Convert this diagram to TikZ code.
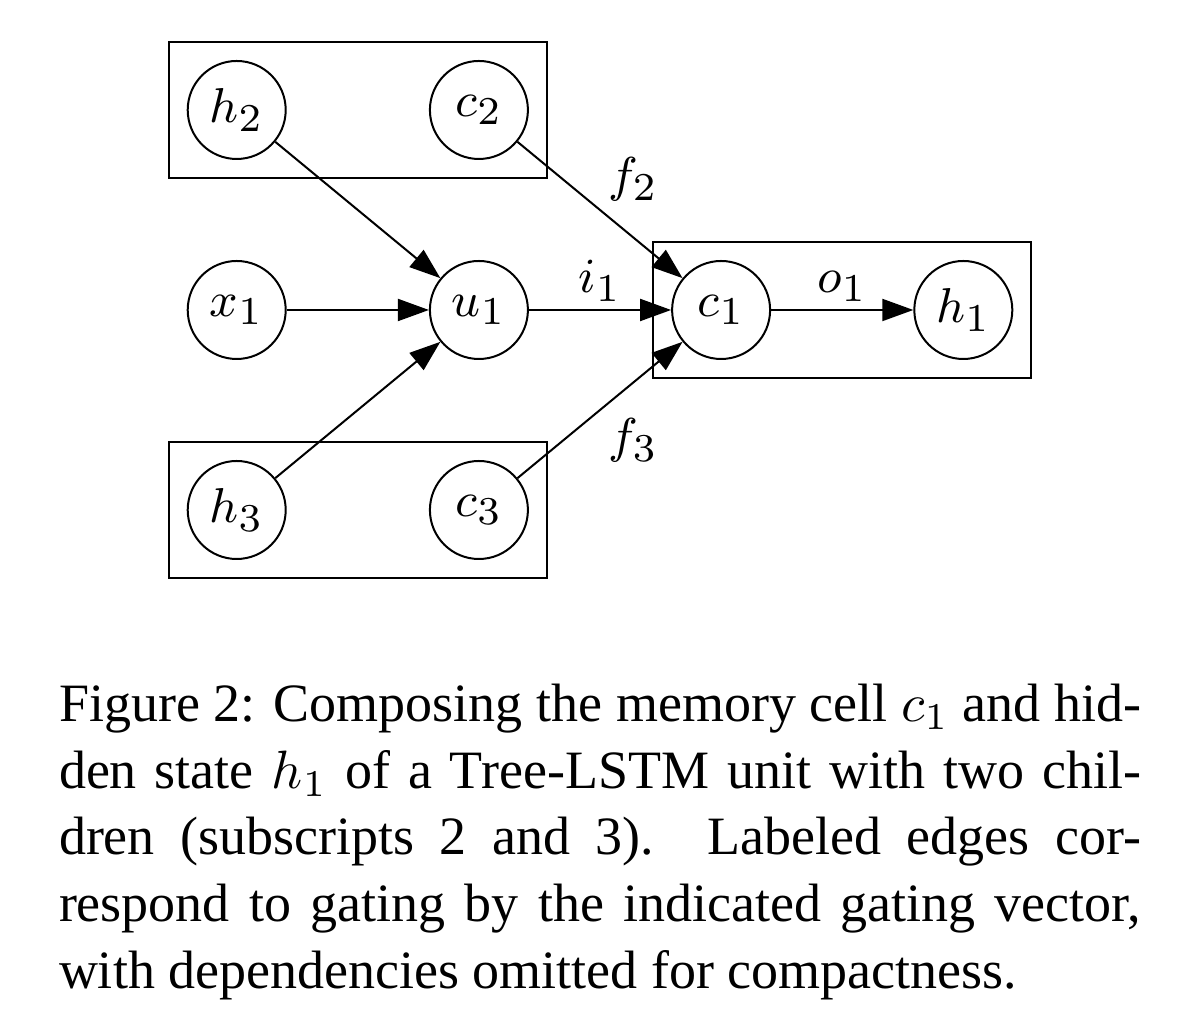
\RequirePackage{fix-cm}
\documentclass[tikz,border=0pt]{standalone}
\usepackage[no-math]{fontspec}
\setmainfont{Liberation Serif}
\usetikzlibrary{arrows.meta,positioning,fit}
\DeclareMathSizes{9.8}{9.8}{7.9}{6}
\newcommand{\cellfont}{\fontsize{9.8}{11}\selectfont}
\newcommand{\capfont}{\fontsize{10.8}{13.32}\selectfont}

\begin{document}
\begin{tikzpicture}[auto,on grid,node distance=40pt and 48.44pt,
unit/.style={circle,draw,minimum size=19.6pt,inner sep=0pt,font=\cellfont},
group/.style={rectangle,draw,inner sep=3.6pt},
paths/.style={-{Triangle[length=6.2pt,width=4.4pt]}},
gate/.style={inner sep=1.5pt,font=\cellfont}]
\useasboundingbox (0,0) rectangle (237.2pt,-204.8pt);
\node [unit] (x1) at (47.34pt,-62pt) {$x_1$};
\node [unit] (u1) [right=of x1] {$u_1$};
\node [unit] (c1) [right=of u1] {$c_1$};
\node [unit] (h1) [right=of c1] {$h_1$};
\node [unit] (h2) [above=of x1] {$h_2$};
\node [unit] (c2) [above=of u1] {$c_2$};
\node [unit] (h3) [below=of x1] {$h_3$};
\node [unit] (c3) [below=of u1] {$c_3$};
\node [group,fit=(h2)(c2)] (top) {};
\node [group,fit=(h3)(c3)] (bottom) {};
\node [group,fit=(c1)(h1)] (cell) {};
\draw [paths] (x1) -- (u1);
\draw [paths] (h2) -- (u1);
\draw [paths] (h3) -- (u1);
\draw [paths] (u1) -- node [gate,above] {$i_1$} (c1);
\draw [paths] (c2) -- node [gate,above right] {$f_2$} (c1);
\draw [paths] (c3) -- node [gate,below right] {$f_3$} (c1);
\draw [paths] (c1) -- node [gate,above] {$o_1$} (h1);
\node [anchor=base west,inner sep=0pt,text width=216.4pt,align=justify,font=\capfont] (caption) at (11.6pt,-144.34pt)
{Figure 2: Composing the memory cell $c_1$ and hid-\linebreak den state $h_1$ of a Tree-LSTM unit with two chil-\linebreak dren (subscripts 2 and 3). Labeled edges cor-\linebreak respond to gating by the indicated gating vector,\linebreak with dependencies omitted for compactness.};
\end{tikzpicture}
\end{document}
